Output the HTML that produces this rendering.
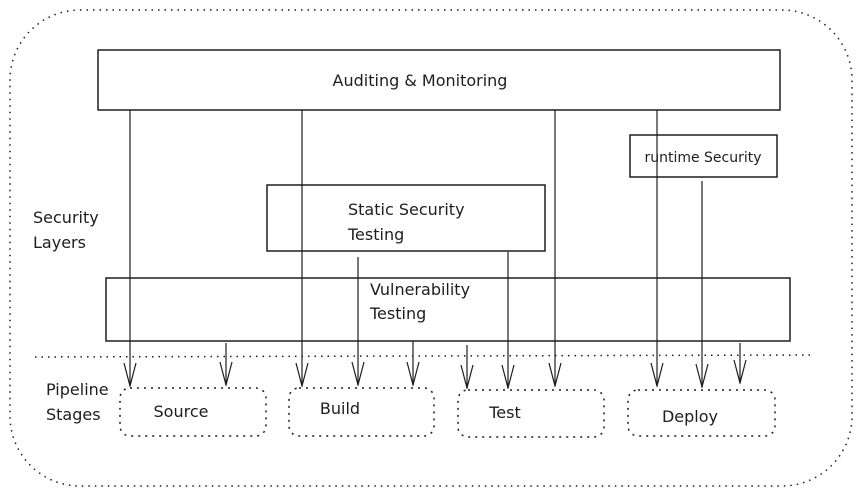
<!DOCTYPE html>
<html><head><meta charset="utf-8"><style>
html,body{margin:0;padding:0;background:#fff;}
svg{display:block}
text{font-family:"DejaVu Sans","Liberation Sans",sans-serif;font-size:16px;fill:#1e1e1e}
</style></head><body>
<svg width="865" height="496" viewBox="0 0 865 496" xmlns="http://www.w3.org/2000/svg">
<defs>
<marker id="a" markerWidth="24" markerHeight="14" refX="23" refY="7" orient="auto" markerUnits="userSpaceOnUse" viewBox="0 0 24 14">
<path d="M0,1 L23,7 L0,13" fill="none" stroke="#1e1e1e" stroke-width="1.2"/>
</marker>
</defs>
<g fill="none" stroke="#1e1e1e">
<rect x="10" y="10" width="842" height="476" rx="70" stroke-dasharray="1.5 5" stroke-width="1.5"/>
<line x1="35" y1="357" x2="815" y2="355" stroke-dasharray="1.5 5" stroke-width="1.5"/>
<rect x="98" y="50" width="682" height="60" stroke-width="1.5"/>
<rect x="630" y="135" width="147" height="42" stroke-width="1.5"/>
<rect x="267" y="185" width="278" height="66" stroke-width="1.5"/>
<rect x="106" y="278" width="684" height="63" stroke-width="1.5"/>
<g stroke-dasharray="2 5" stroke-width="1.5">
<rect x="120" y="388" width="146" height="48" rx="10"/>
<rect x="289" y="388" width="145" height="48" rx="10"/>
<rect x="458" y="390" width="146" height="47" rx="10"/>
<rect x="628" y="390" width="147" height="46" rx="10"/>
</g>
<g stroke-width="1.2" marker-end="url(#a)">
<line x1="130" y1="110" x2="130" y2="386"/>
<line x1="302" y1="110" x2="302" y2="386"/>
<line x1="555" y1="110" x2="555" y2="386"/>
<line x1="657" y1="110" x2="657" y2="386"/>
<line x1="702" y1="181" x2="702" y2="387"/>
<line x1="358" y1="257" x2="358" y2="385"/>
<line x1="508" y1="252" x2="508" y2="388"/>
<line x1="226" y1="343" x2="226" y2="385"/>
<line x1="413" y1="341" x2="413" y2="385"/>
<line x1="467" y1="345" x2="467" y2="388"/>
<line x1="740" y1="343" x2="740" y2="383"/>
</g>
</g>
<text x="420" y="86" text-anchor="middle">Auditing &amp; Monitoring</text>
<text x="703" y="162" text-anchor="middle" style="font-size:14px">runtime Security</text>
<text x="348" y="215">Static Security</text>
<text x="348" y="240">Testing</text>
<text x="370" y="295">Vulnerability</text>
<text x="370" y="319">Testing</text>
<text x="33" y="223">Security</text>
<text x="33" y="248">Layers</text>
<text x="46" y="395">Pipeline</text>
<text x="46" y="420">Stages</text>
<text x="181" y="417" text-anchor="middle">Source</text>
<text x="340" y="414" text-anchor="middle">Build</text>
<text x="505" y="418" text-anchor="middle">Test</text>
<text x="690" y="422" text-anchor="middle">Deploy</text>
</svg>
</body></html>
